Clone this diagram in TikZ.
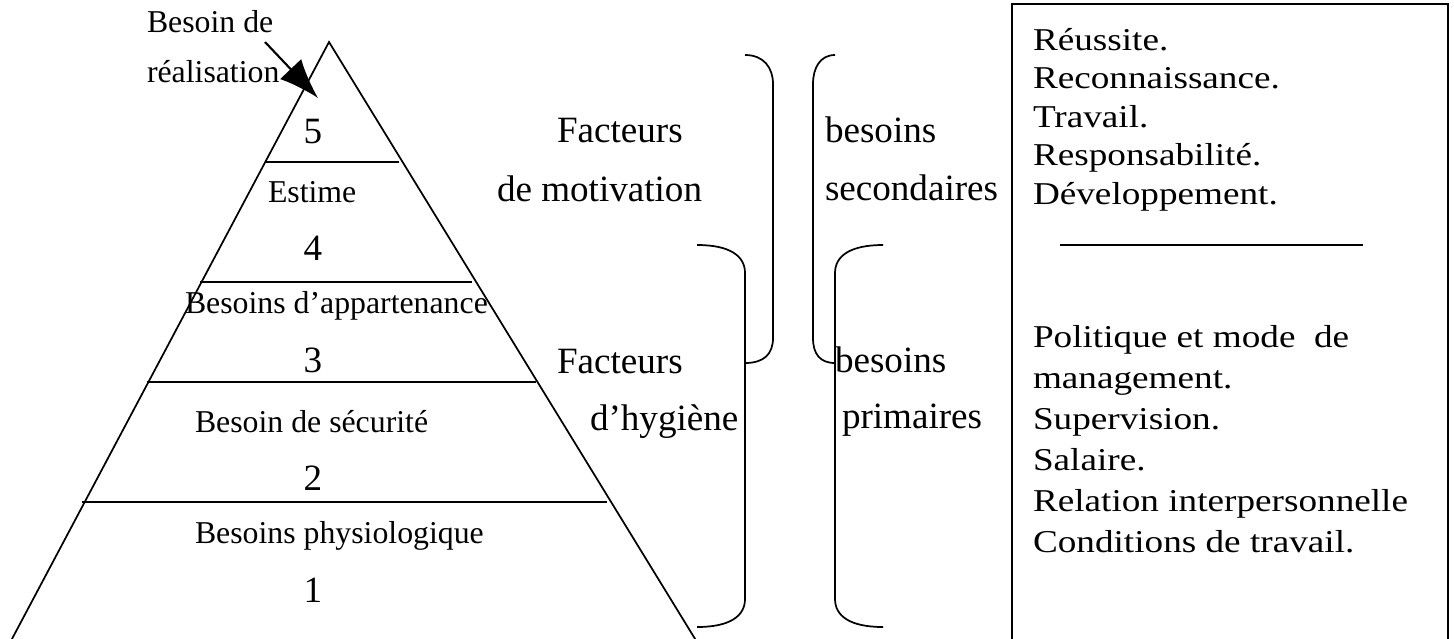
\documentclass[tikz,border=0pt]{standalone}
\usepackage{fontspec}
\setmainfont{Liberation Serif}
\usetikzlibrary{arrows.meta}
\newcommand{\widetext}[1]{\scalebox{1.17}[1]{#1}}
\begin{document}
\begin{tikzpicture}[x=0.3774pt,y=-0.3774pt,
  every node/.style={inner sep=0pt,outer sep=0pt},
  small/.style={font=\fontsize{12}{14}\selectfont},
  big/.style={font=\fontsize{14}{16}\selectfont},
  lbl/.style={small,anchor=base west},
  num/.style={big,anchor=base},
  side/.style={big,anchor=base west},
  boxline/.style={small,anchor=base west},
  stroke/.style={line width=0.65pt},
  brace/.style={line width=0.65pt},
  pointer/.style={line width=0.8pt,-{Latex[length=15,width=11]}}]
\useasboundingbox (0,0) rectangle (1454,638);
\clip (0,0) rectangle (1454,638);

% pyramid outline and levels
\draw[stroke] (0.8,660) -- (329,42) -- (708,660);
\draw[stroke] (265,162) -- (399,162);
\draw[stroke] (200,282) -- (472,282);
\draw[stroke] (147,382) -- (536,382);
\draw[stroke] (82,502) -- (607,502);

% level labels
\node[num] (n5) at (313,143) {5};
\node[lbl] (estime) at (268,202) {Estime};
\node[num] (n4) at (313,260) {4};
\node[lbl] (appart) at (185,313) {Besoins d’appartenance};
\node[num] (n3) at (313,372) {3};
\node[lbl] (secu) at (195,432) {Besoin de sécurité};
\node[num] (n2) at (313,490) {2};
\node[lbl] (physio) at (195,543) {Besoins physiologique};
\node[num] (n1) at (313,602) {1};

% top label with pointer
\node[lbl] (real1) at (147,32) {Besoin de};
\node[lbl] (real2) at (147,82) {réalisation};
\coordinate (ptail) at (265,42);
\coordinate (ptip) at (318,98);
\draw[pointer] (ptail) -- (ptip);

% factor labels
\node[side] (fm1) at (557,142) {Facteurs};
\node[side] (fm2) at (497,201) {de motivation};
\node[side] (fh1) at (557,373) {Facteurs};
\node[side] (fh2) at (590,430) {d’hygiène};
\node[side] (bs1) at (825,142) {besoins};
\node[side] (bs2) at (825,200) {secondaires};
\node[side] (bp1) at (835,372) {besoins};
\node[side] (bp2) at (842,428) {primaires};

% brackets
\draw[brace] (745,55) .. controls (764,55) and (773,68) .. (773,84)
  -- (773,338) .. controls (773,354) and (764,363) .. (745,363);
\draw[brace] (697,245) .. controls (730,245) and (745,256) .. (745,273)
  -- (745,599) .. controls (745,616) and (730,627) .. (697,627);
\draw[brace] (835,55) .. controls (820,55) and (813,68) .. (813,84)
  -- (813,338) .. controls (813,354) and (820,363) .. (835,363);
\draw[brace] (883,245) .. controls (850,245) and (835,256) .. (835,273)
  -- (835,599) .. controls (835,616) and (850,627) .. (883,627);

% factor list box
\draw[stroke] (1012,4) rectangle (1448,700);
\draw[stroke] (1060,245) -- (1363,245);
\node[boxline] (r1) at (1033,50) {\widetext{Réussite.}};
\node[boxline] (r2) at (1033,88.5) {\widetext{Reconnaissance.}};
\node[boxline] (r3) at (1033,127) {\widetext{Travail.}};
\node[boxline] (r4) at (1033,165.5) {\widetext{Responsabilité.}};
\node[boxline] (r5) at (1033,204) {\widetext{Développement.}};
\node[boxline] (h1) at (1033,347) {\widetext{Politique et mode\ \ de}};
\node[boxline] (h2) at (1033,388) {\widetext{management.}};
\node[boxline] (h3) at (1033,429) {\widetext{Supervision.}};
\node[boxline] (h4) at (1033,470) {\widetext{Salaire.}};
\node[boxline] (h5) at (1033,511) {\widetext{Relation interpersonnelle}};
\node[boxline] (h6) at (1033,552) {\widetext{Conditions de travail.}};
\end{tikzpicture}
\end{document}
